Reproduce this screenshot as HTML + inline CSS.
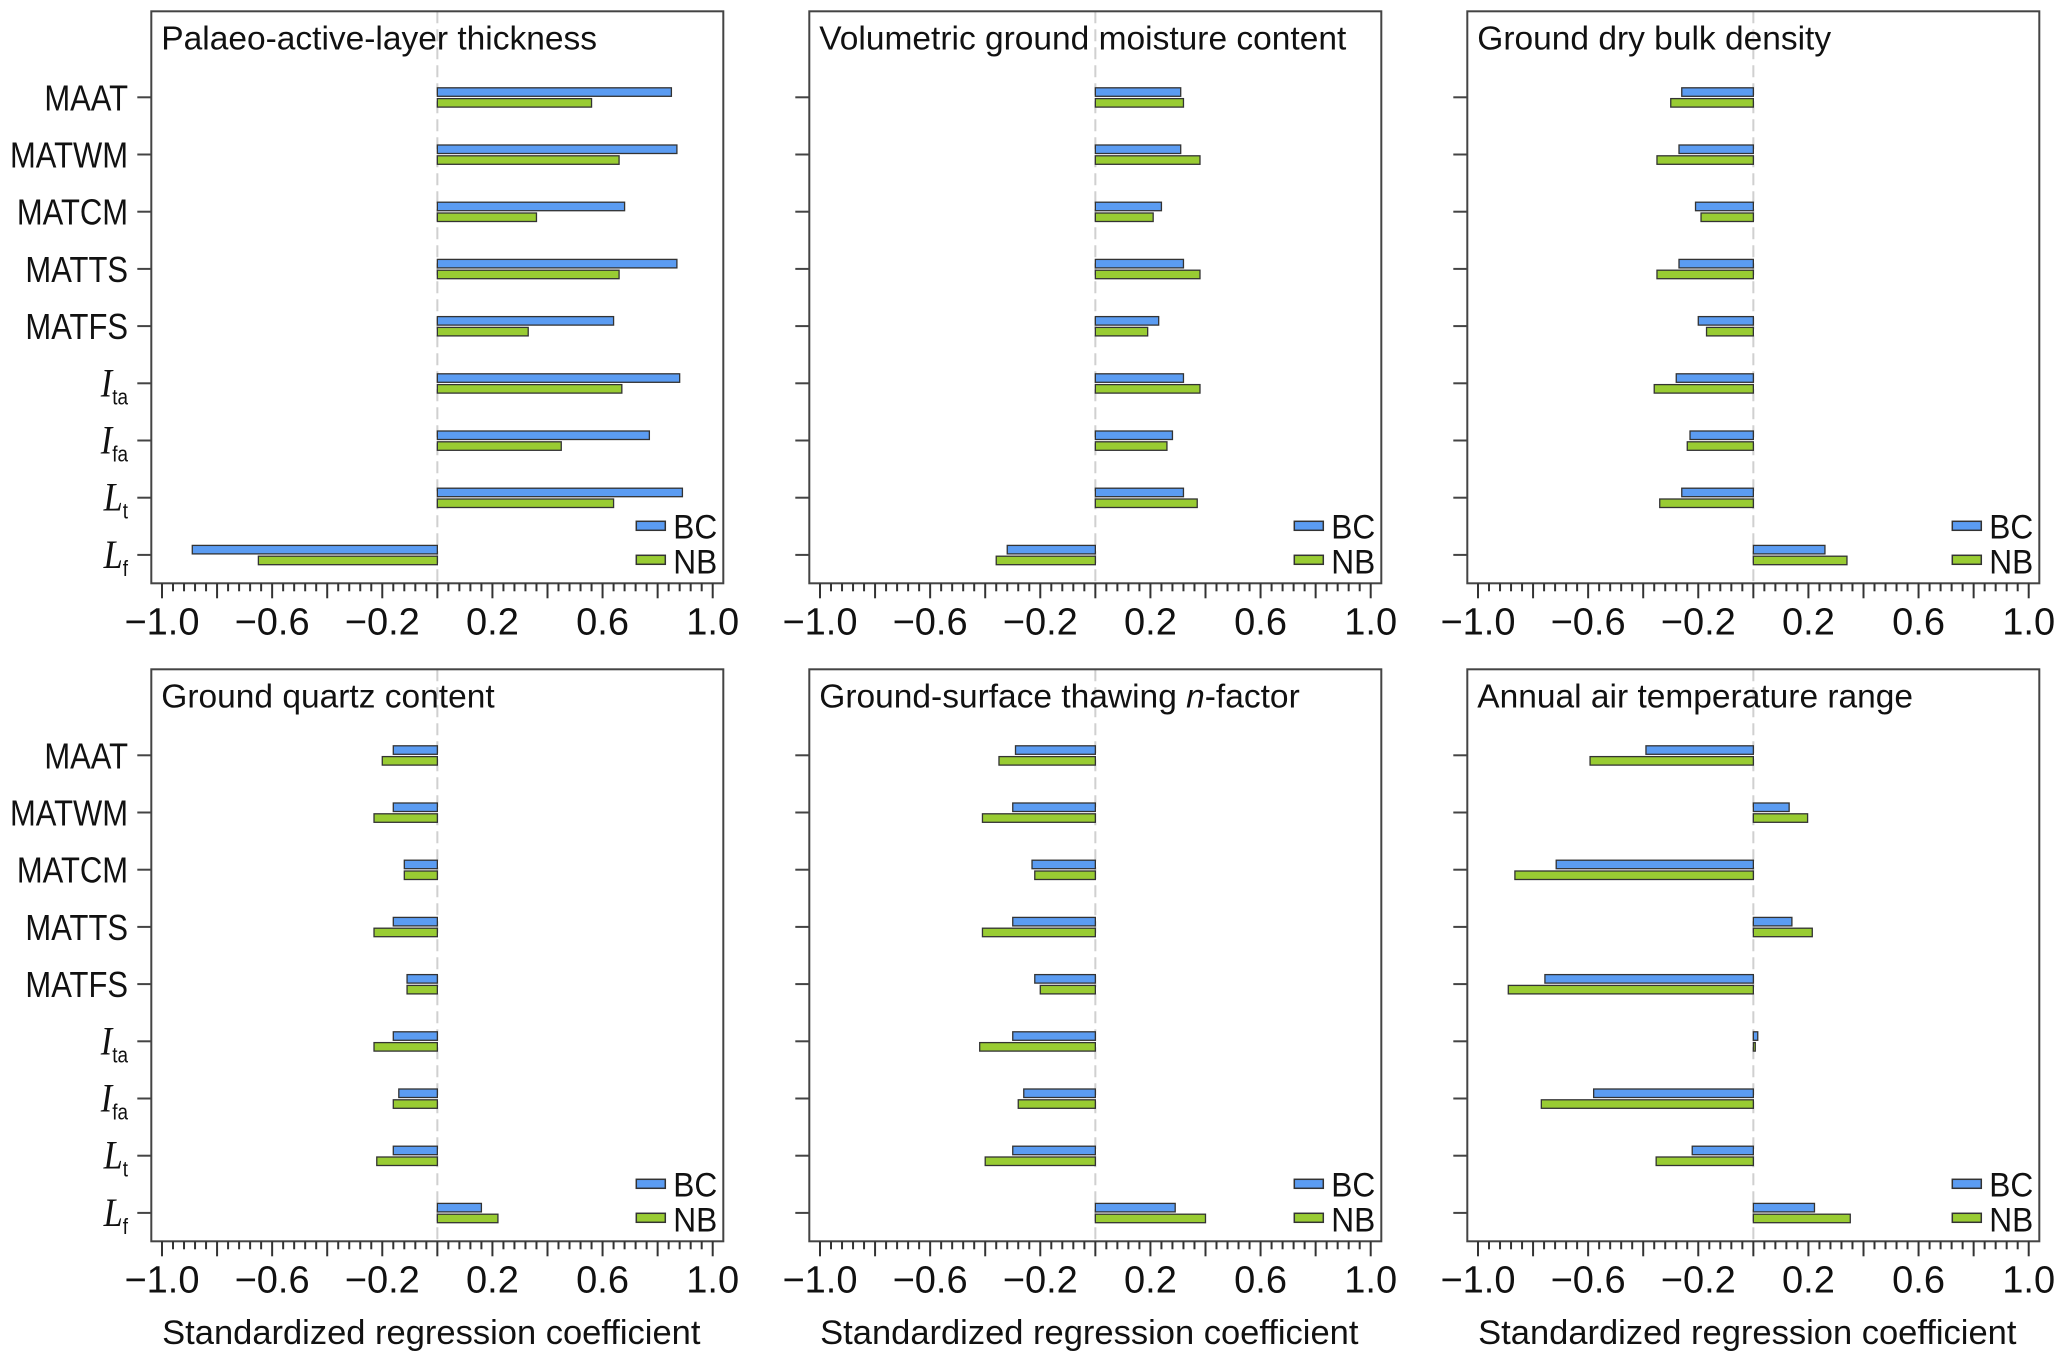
<!DOCTYPE html>
<html><head><meta charset="utf-8"><style>
html,body{margin:0;padding:0;background:#fff;}
svg{display:block;font-family:"Liberation Sans","DejaVu Sans",sans-serif;}
</style></head><body>
<svg id="chart" width="2067" height="1362" viewBox="0 0 2067 1362" xmlns="http://www.w3.org/2000/svg"></svg>
<script>
const categories = ["MAAT","MATWM","MATCM","MATTS","MATFS","Ita","Ifa","Lt","Lf"];
const panelTitles = ["Palaeo-active-layer thickness","Volumetric ground moisture content","Ground dry bulk density","Ground quartz content","Ground-surface thawing n-factor","Annual air temperature range"];
const bcValues = [
  [0.85,0.87,0.68,0.87,0.64,0.88,0.77,0.89,-0.89],
  [0.31,0.31,0.24,0.32,0.23,0.32,0.28,0.32,-0.32],
  [-0.26,-0.27,-0.21,-0.27,-0.20,-0.28,-0.23,-0.26,0.26],
  [-0.16,-0.16,-0.12,-0.16,-0.11,-0.16,-0.14,-0.16,0.16],
  [-0.29,-0.30,-0.23,-0.30,-0.22,-0.30,-0.26,-0.30,0.29],
  [-0.39,0.13,-0.716,0.14,-0.757,0.016,-0.58,-0.222,0.222]
];
const nbValues = [
  [0.56,0.66,0.36,0.66,0.33,0.67,0.45,0.64,-0.65],
  [0.32,0.38,0.21,0.38,0.19,0.38,0.26,0.37,-0.36],
  [-0.30,-0.35,-0.19,-0.35,-0.17,-0.36,-0.24,-0.34,0.34],
  [-0.20,-0.23,-0.12,-0.23,-0.11,-0.23,-0.16,-0.22,0.22],
  [-0.35,-0.41,-0.22,-0.41,-0.20,-0.42,-0.28,-0.40,0.40],
  [-0.593,0.197,-0.866,0.214,-0.89,0.007,-0.77,-0.353,0.352]
];
const tickLabels = ["\u22121.0","\u22120.6","\u22120.2","0.2","0.6","1.0"];
const tickValues = [-1.0,-0.6,-0.2,0.2,0.6,1.0];

const NS="http://www.w3.org/2000/svg";
const svg=document.getElementById('chart');
function mk(tag,attrs,parent){const e=document.createElementNS(NS,tag);for(const k in attrs)e.setAttribute(k,attrs[k]);(parent||svg).appendChild(e);return e;}
const PW=572,PH=572;
const lefts=[151.3,809.3,1467.3], tops=[11.3,669.3];
panelTitles.forEach((title,p)=>{
  const L=lefts[p%3], T=tops[Math.floor(p/3)];
  const g=mk('g',{});
  
  
  const xs=v=>L+10.7+(v+1)*275.35;
  const ys=i=>T+86+i*57.2;
  const zl=mk('line',{x1:xs(0),x2:xs(0),y1:T,y2:T+PH,stroke:'#d0d0d0','stroke-width':2,'stroke-dasharray':'12,6'},g);
  
  
  categories.forEach((c,i)=>{
    const y=ys(i);
    const b=bcValues[p][i], n=nbValues[p][i];
    const r1=mk('rect',{x:Math.min(xs(0),xs(b)),y:y-9.5,width:Math.abs(xs(b)-xs(0)),height:8.5,fill:'#5b9cf2',stroke:'#333','stroke-width':1.3},g);
    
    
    const r2=mk('rect',{x:Math.min(xs(0),xs(n)),y:y+1.3,width:Math.abs(xs(n)-xs(0)),height:8.5,fill:'#99cc33',stroke:'#333','stroke-width':1.3},g);
    
    
    mk('line',{x1:L-14,x2:L,y1:y,y2:y,stroke:'#444','stroke-width':2},g);
    if(p%3===0){
      const t=mk('text',{x:128,y:y+13,'font-size':36,'text-anchor':'end',fill:'#111',transform:'translate(128,0) scale(0.86,1) translate(-128,0)'},g);
      
      
      if(c.length<=3&&c!=="MAAT"){
        const m=mk('tspan',{'font-style':'italic','font-family':'"Liberation Serif",serif','font-size':40},t);m.textContent=c[0];
        const s=mk('tspan',{'font-size':22,dy:8},t);s.textContent=c.slice(1);
      } else t.textContent=c;
    }
  });
  const fr=mk('rect',{x:L,y:T,width:PW,height:PH,fill:'none',stroke:'#444','stroke-width':2},g);
  
  
  for(let k=0;k<=50;k++){
    const v=-1+k*0.04;
    const major=(k%5===0);
    mk('line',{x1:xs(v),x2:xs(v),y1:T+PH,y2:T+PH+(major?15:8),stroke:'#333','stroke-width':2},g);
  }
  tickValues.forEach((v,j)=>{
    const t=mk('text',{x:xs(v),y:T+PH+51,'font-size':38,'text-anchor':'middle',fill:'#111'},g);
    
    
    t.textContent=tickLabels[j];
  });
  const tt=mk('text',{x:L+10,y:T+38,'font-size':33.5,fill:'#111'},g);
  
  
  if(title.indexOf('n-factor')>=0){
    tt.appendChild(document.createTextNode('Ground-surface thawing '));
    const it=mk('tspan',{'font-style':'italic'},tt);it.textContent='n';
    tt.appendChild(document.createTextNode('-factor'));
  } else tt.textContent=title;
  const lg=mk('g',{},g);
  
  
  mk('rect',{x:L+PW-87,y:T+PH-62,width:29,height:9,fill:'#5b9cf2',stroke:'#333','stroke-width':1.5},lg);
  mk('rect',{x:L+PW-87,y:T+PH-28,width:29,height:9,fill:'#99cc33',stroke:'#333','stroke-width':1.5},lg);
  const l1=mk('text',{x:L+PW-50,y:T+PH-45,'font-size':34,fill:'#111',textLength:44,lengthAdjust:'spacingAndGlyphs'},lg);l1.textContent='BC';
  const l2=mk('text',{x:L+PW-50,y:T+PH-10,'font-size':34,fill:'#111',textLength:44,lengthAdjust:'spacingAndGlyphs'},lg);l2.textContent='NB';
  if(p>=3){
    const xt=mk('text',{x:L+PW/2-6,y:1344,'font-size':34.5,'text-anchor':'middle',fill:'#111'},g);
    
    
    xt.textContent='Standardized regression coefficient';
  }
});
</script>
</body></html>
